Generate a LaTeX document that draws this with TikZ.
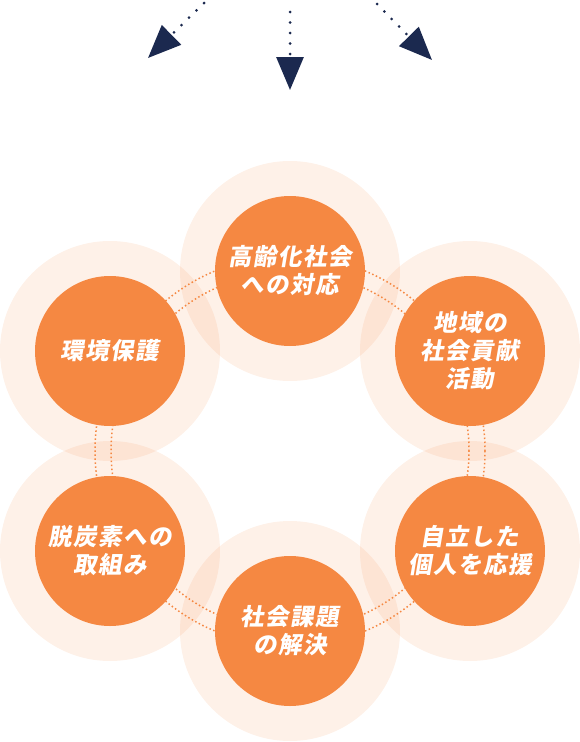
\documentclass[tikz,border=0pt]{standalone}
\usepackage{fontspec}
\usetikzlibrary{arrows.meta}
\newfontfamily\jpfont[FakeSlant=0.17,LetterSpace=6]{Noto Sans CJK JP}
\definecolor{orng}{RGB}{245,136,66}
\definecolor{navy}{RGB}{27,41,79}
\tikzset{
  halo/.style={circle, fill=orng, fill opacity=0.12, minimum size=220pt, inner sep=0pt},
  bubble/.style={circle, fill=orng, minimum size=150pt, inner sep=0pt, text=white, align=center,
    font=\jpfont\bfseries\fontsize{23.5}{28}\selectfont},
  ring/.style={orng, line width=1.5pt, dash pattern=on 1.5pt off 2.5pt},
  navyarrow/.style={navy, line width=3pt, dash pattern=on 0pt off 10.5pt, line cap=round,
    -{Triangle[length=33pt,width=27pt]}}
}
\begin{document}
\begin{tikzpicture}[x=1pt,y=-1pt]
\useasboundingbox (0,0) rectangle (580,742);
\coordinate (O) at (290,451);
% halos
\node[halo] (th) at (290,271) {};
\node[halo] (luh) at (110,351) {};
\node[halo] (ruh) at (470,351) {};
\node[halo] (llh) at (110,551) {};
\node[halo] (rlh) at (470,551) {};
\node[halo] (bh) at (290,631) {};
% dotted rings
\draw[ring] (O) circle[radius=179pt];
\draw[ring] (O) circle[radius=195pt];
% bubbles
\node[bubble] (t) at (290,271) {高齢化社会\\への対応};
\node[bubble] (lu) at (110,351) {環境保護};
\node[bubble] (ru) at (470,351) {地域の\\社会貢献\\活動};
\node[bubble] (ll) at (110,551) {脱炭素への\\取組み};
\node[bubble] (rl) at (470,551) {自立した\\個人を応援};
\node[bubble] (b) at (290,631) {社会課題\\の解決};
% arrows
\coordinate (a1s) at (204,3);
\coordinate (a1e) at (148,58);
\coordinate (a2s) at (290,12);
\coordinate (a2e) at (290,90);
\coordinate (a3s) at (377,4);
\coordinate (a3e) at (432,60);
\draw[navyarrow] (a1s) -- (a1e);
\draw[navyarrow] (a2s) -- (a2e);
\draw[navyarrow] (a3s) -- (a3e);
\end{tikzpicture}
\end{document}
